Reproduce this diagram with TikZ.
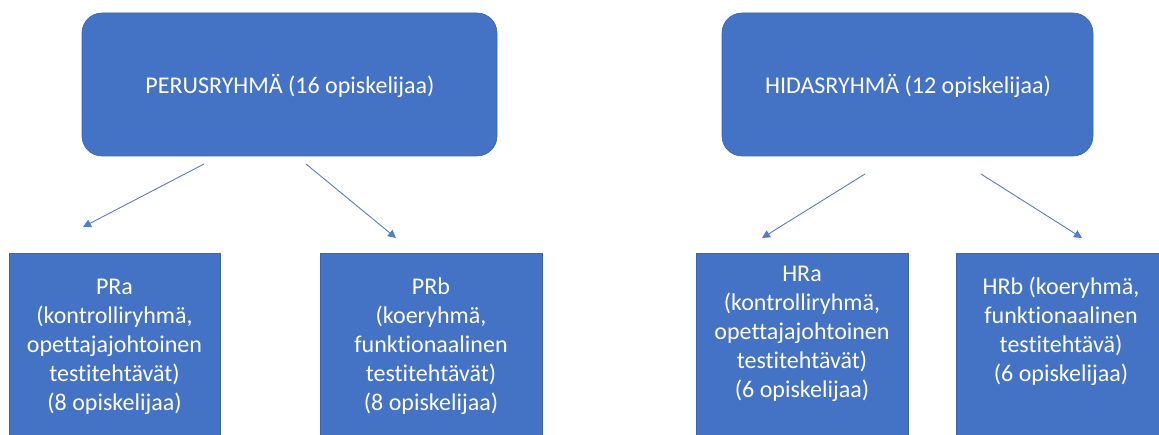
\documentclass[tikz,border=0pt]{standalone}
\usepackage{fontspec}
\setmainfont{Carlito}[Ligatures={NoCommon}]
\usetikzlibrary{arrows.meta}
\definecolor{boxblue}{RGB}{68,114,196}
\definecolor{edgeblue}{RGB}{60,100,170}
\definecolor{arrowblue}{RGB}{84,124,200}
\tikzset{
  topbox/.style={draw=edgeblue, line width=0.6pt, fill=boxblue, rounded corners=20pt, inner sep=0pt},
  lowbox/.style={draw=edgeblue, line width=0.6pt, fill=boxblue, inner sep=0pt, minimum height=220pt},
  boxtext/.style={text=white, align=center, inner sep=0pt, font=\fontsize{24pt}{29pt}\selectfont},
  conn/.style={draw=arrowblue, line width=0.9pt, -{Triangle[length=8pt,width=8pt]}}
}
\begin{document}
\begin{tikzpicture}[x=1pt,y=-1pt]
\path[use as bounding box, clip] (0,0) rectangle (1159,435);
% top boxes
\node[topbox, minimum width=415pt, minimum height=143pt] (perus) at (289.5,84.5) {};
\node[boxtext] (perust) at (290,86) {PERUSRYHMÄ (16 opiskelijaa)};
\node[topbox, minimum width=371pt, minimum height=143pt] (hidas) at (907.5,84.5) {};
\node[boxtext] (hidast) at (908,86) {HIDASRYHMÄ (12 opiskelijaa)};
% bottom boxes
\node[lowbox, minimum width=211pt, anchor=north] (pra) at (114.5,253) {};
\node[boxtext] (prat) at (114.5,346.5) {PRa\\(kontrolliryhmä,\\opettajajohtoinen\\testitehtävät)\\(8 opiskelijaa)};
\node[lowbox, minimum width=222pt, anchor=north] (prb) at (431,253) {};
\node[boxtext] (prbt) at (431,346.5) {PRb\\(koeryhmä,\\funktionaalinen\\testitehtävät)\\(8 opiskelijaa)};
\node[lowbox, minimum width=212pt, anchor=north] (hra) at (802,253) {};
\node[boxtext] (hrat) at (802,333.5) {HRa\\(kontrolliryhmä,\\opettajajohtoinen\\testitehtävät)\\(6 opiskelijaa)};
\node[lowbox, minimum width=210pt, anchor=north] (hrb) at (1061,253) {};
\node[boxtext] (hrbt) at (1061,331) {HRb (koeryhmä,\\funktionaalinen\\testitehtävä)\\(6 opiskelijaa)};
% connector end points
\coordinate (p1s) at (204,164);
\coordinate (p1e) at (83,227);
\coordinate (p2s) at (306,164);
\coordinate (p2e) at (396,238);
\coordinate (h1s) at (865,174);
\coordinate (h1e) at (762,238);
\coordinate (h2s) at (981,174);
\coordinate (h2e) at (1082,238);
\draw[conn] (p1s) -- (p1e);
\draw[conn] (p2s) -- (p2e);
\draw[conn] (h1s) -- (h1e);
\draw[conn] (h2s) -- (h2e);
\end{tikzpicture}
\end{document}
